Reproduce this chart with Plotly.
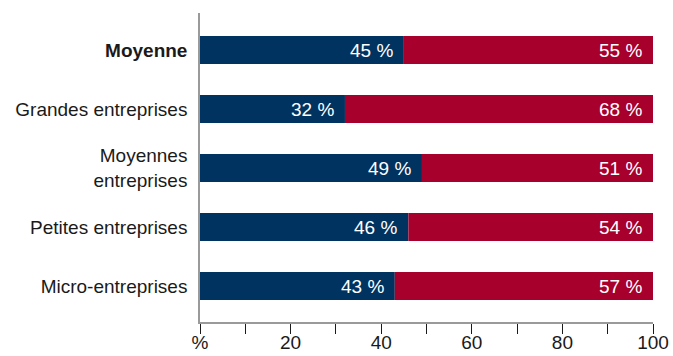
import plotly.graph_objects as go

categories = ["<b>Moyenne</b>", "Grandes entreprises", "Moyennes<br>entreprises",
              "Petites entreprises", "Micro-entreprises"]
series_a = [45, 32, 49, 46, 43]
series_b = [55, 68, 51, 54, 57]
x_tick_vals = [0, 10, 20, 30, 40, 50, 60, 70, 80, 90, 100]
x_tick_text = ["%", "", "20", "", "40", "", "60", "", "80", "", "100"]

navy = "#00335F"
red = "#A8002D"
grey = "#9a9a9a"
font_family = "Liberation Sans, Arial, sans-serif"

ypos = list(range(len(categories)))

fig = go.Figure()
fig.add_trace(go.Bar(y=ypos, x=series_a, orientation="h", marker=dict(color=navy, line=dict(width=0)),
                     width=0.475, hoverinfo="skip"))
fig.add_trace(go.Bar(y=ypos, x=series_b, base=series_a, orientation="h",
                     marker=dict(color=red, line=dict(width=0)), width=0.475, hoverinfo="skip"))

for i, (a, b) in enumerate(zip(series_a, series_b)):
    fig.add_annotation(x=a, y=i, text=f"{a} %", xanchor="right", yanchor="middle", showarrow=False,
                       xshift=-9, font=dict(color="white", size=19, family=font_family))
    fig.add_annotation(x=a + b, y=i, text=f"{b} %", xanchor="right", yanchor="middle", showarrow=False,
                       xshift=-9, font=dict(color="white", size=19, family=font_family))

fig.update_layout(
    width=673, height=356,
    margin=dict(l=200, r=20, t=13, b=34),
    barmode="overlay",
    showlegend=False,
    plot_bgcolor="white", paper_bgcolor="white",
    font=dict(family=font_family, size=19, color="#1a1a1a"),
    xaxis=dict(range=[0, 100], tickvals=x_tick_vals, ticktext=x_tick_text, automargin=False,
               showgrid=False, zeroline=False, showline=True, linecolor=grey, linewidth=1.5,
               ticks="outside", ticklen=10, tickcolor="#1a1a1a", tickwidth=1,
               ticklabelstandoff=-8,
               tickfont=dict(size=19, color="#1a1a1a")),
    yaxis=dict(range=[4.61, -0.627], tickvals=ypos, ticktext=categories, automargin=False,
               showgrid=False, zeroline=False, showline=True, linecolor=grey, linewidth=1.5,
               ticks="", ticklabelstandoff=7, tickfont=dict(size=19, color="#1a1a1a")),
)

fig.write_html("out.html")
